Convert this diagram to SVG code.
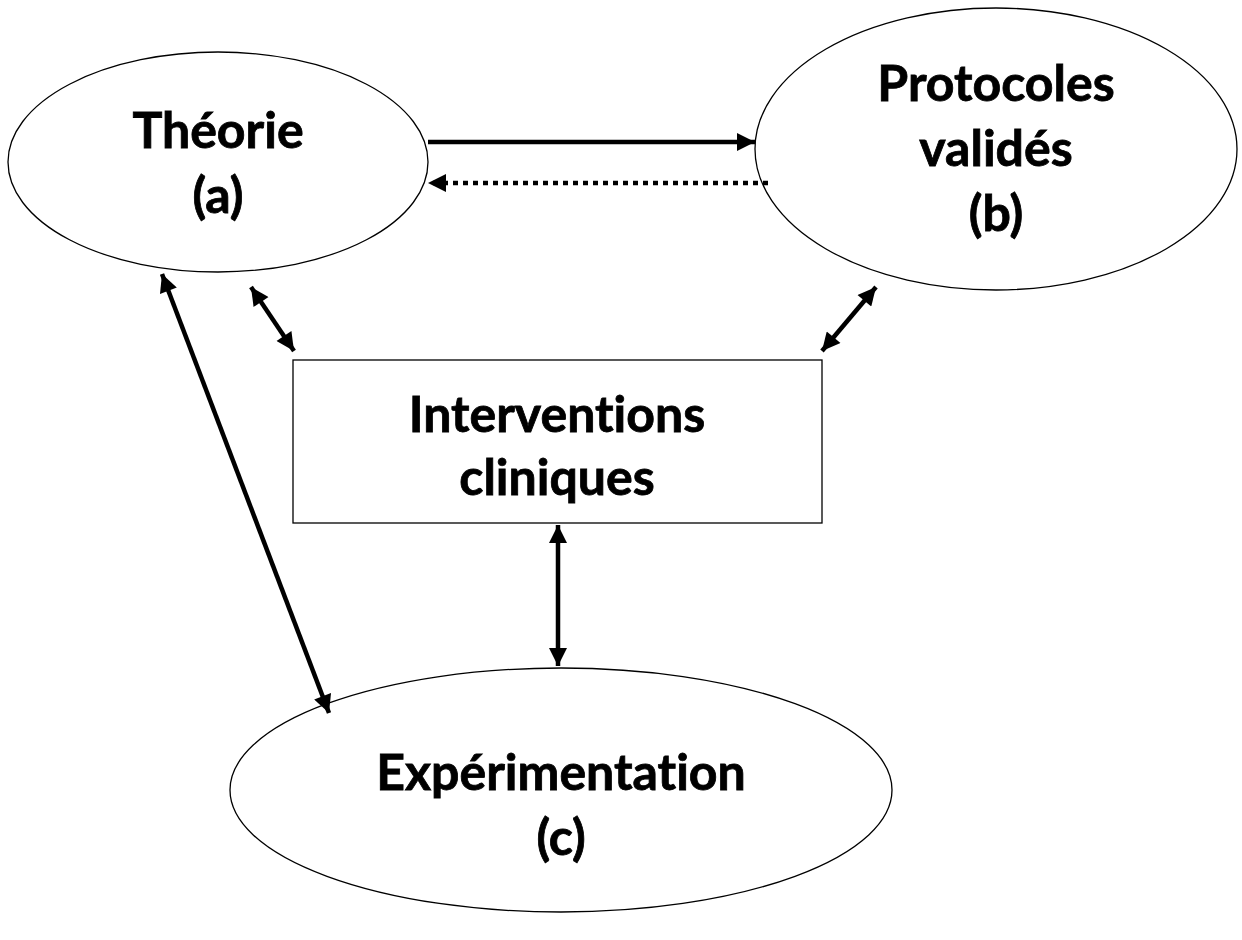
<svg xmlns="http://www.w3.org/2000/svg" width="1242" height="940" viewBox="0 0 1242 940">
<defs>
<style>
.node{fill:#fff;stroke:#000;stroke-width:1.3}
.lbl{font-family:Lato,"Open Sans","Liberation Sans",sans-serif;font-weight:bold;font-size:50px;fill:#000;text-anchor:middle;font-variant-ligatures:none;stroke:#000;stroke-width:0.8}
.conn{stroke:#000;stroke-width:4.5;fill:none}
.dot{stroke-dasharray:5 5}
</style>
<marker id="ah" viewBox="0 0 10 10" refX="10" refY="5" markerWidth="20" markerHeight="18" markerUnits="userSpaceOnUse" orient="auto-start-reverse">
<path d="M0,0 L10,5 L0,10 Z" fill="#000"/>
</marker>
</defs>
<rect width="1242" height="940" fill="#fff"/>
<g id="theorie">
<ellipse class="node" cx="218" cy="162" rx="210" ry="110"/>
<text class="lbl" x="218" y="148">Théorie</text>
<text class="lbl" x="218" y="213">(a)</text>
</g>
<g id="protocoles">
<ellipse class="node" cx="996" cy="149" rx="241" ry="141"/>
<text class="lbl" x="996" y="101">Protocoles</text>
<text class="lbl" x="996" y="166">validés</text>
<text class="lbl" x="996" y="231">(b)</text>
</g>
<g id="interventions">
<rect class="node" x="293" y="360" width="529" height="163"/>
<text class="lbl" x="557" y="432">Interventions</text>
<text class="lbl" x="557" y="495">cliniques</text>
</g>
<g id="experimentation">
<ellipse class="node" cx="561" cy="790" rx="331" ry="122"/>
<text class="lbl" x="561" y="790">Expérimentation</text>
<text class="lbl" x="561" y="855">(c)</text>
</g>
<g id="connectors">
<line class="conn" x1="428" y1="142" x2="755" y2="142" marker-end="url(#ah)"/>
<line class="conn dot" x1="768" y1="183" x2="428" y2="183" marker-end="url(#ah)"/>
<line class="conn" x1="162" y1="274" x2="329" y2="713" marker-start="url(#ah)" marker-end="url(#ah)"/>
<line class="conn" x1="251" y1="287" x2="294" y2="351" marker-start="url(#ah)" marker-end="url(#ah)"/>
<line class="conn" x1="876" y1="287" x2="822" y2="351" marker-start="url(#ah)" marker-end="url(#ah)"/>
<line class="conn" x1="558" y1="525" x2="558" y2="666" marker-start="url(#ah)" marker-end="url(#ah)"/>
</g>
</svg>
